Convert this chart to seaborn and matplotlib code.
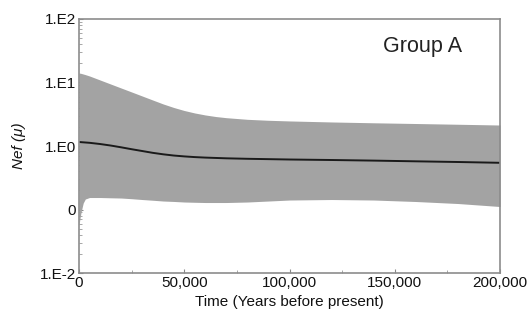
import numpy as np
import pandas as pd
import matplotlib
matplotlib.use("Agg")
import matplotlib.pyplot as plt
import seaborn as sns
from matplotlib.ticker import FuncFormatter, LogLocator, MultipleLocator

# Data (time in years before present)
band_time = [0, 500, 1000, 2000, 3000, 5000, 10000, 15000, 20000, 25000, 30000, 35000,
             40000, 45000, 50000, 55000, 60000, 65000, 70000, 80000, 90000, 100000,
             120000, 140000, 160000, 180000, 200000]
upper_hpd = [14.1, 14.0, 13.9, 13.6, 13.3, 12.66, 10.95, 9.47, 8.19, 7.09, 6.13, 5.30,
             4.59, 4.04, 3.62, 3.31, 3.08, 2.91, 2.79, 2.63, 2.54, 2.48,
             2.39, 2.32, 2.26, 2.20, 2.14]
lower_hpd = [0.057, 0.0735, 0.0913, 0.1266, 0.1464, 0.1545, 0.1545, 0.153, 0.1517, 0.148, 0.1437, 0.140,
             0.1361, 0.134, 0.1313, 0.130, 0.1289, 0.1289, 0.1289, 0.1313, 0.1361, 0.1411,
             0.1437, 0.1411, 0.1337, 0.1243, 0.1115]

median_time = [0, 5000, 10000, 15000, 20000, 25000, 30000, 35000, 40000, 45000, 50000,
               55000, 60000, 70000, 80000, 100000, 120000, 140000, 160000, 180000, 200000]
median_ne = [1.156, 1.123, 1.075, 1.018, 0.954, 0.890, 0.834, 0.781, 0.740, 0.708, 0.686,
             0.669, 0.657, 0.640, 0.629, 0.613, 0.602, 0.589, 0.574, 0.560, 0.544]

ytick_values = [1e-2, 1e-1, 1e0, 1e1, 1e2]
ytick_labels = ["1.E-2", "0", "1.E0", "1.E1", "1.E2"]
xtick_values = [0, 50000, 100000, 150000, 200000]

band = pd.DataFrame({"time": band_time, "upper": upper_hpd, "lower": lower_hpd})
med = pd.DataFrame({"time": median_time, "median": median_ne})

sns.set_theme(style="white")
plt.rcParams["font.family"] = ["Liberation Sans", "DejaVu Sans"]

fig = plt.figure(figsize=(5.32, 3.27), dpi=100)
ax = fig.add_axes([0.1485, 0.165, 0.7915, 0.777])

ax.fill_between(band["time"], band["lower"], band["upper"], color="#a3a3a3", linewidth=0)
sns.lineplot(data=med, x="time", y="median", ax=ax, color="#1a1a1a", linewidth=1.4)

ax.set_yscale("log")
ax.set_ylim(1e-2, 1e2)
ax.set_xlim(0, 200000)
ax.set_yticks(ytick_values)
ax.set_yticklabels(ytick_labels)
ax.yaxis.set_minor_locator(LogLocator(base=10, subs=np.arange(2, 10)))
ax.set_xticks(xtick_values)
ax.xaxis.set_major_formatter(FuncFormatter(lambda v, p: f"{int(v):,}"))
ax.xaxis.set_minor_locator(MultipleLocator(25000))

ax.tick_params(axis="both", which="major", direction="in", length=3, width=0.8,
               color="#888888", labelsize=11, pad=2, labelcolor="#111111")
ax.tick_params(axis="both", which="minor", direction="in", length=2, width=0.6,
               color="#999999")
ax.tick_params(axis="y", which="both", left=True)
ax.tick_params(axis="x", which="both", bottom=True)

for sp in ax.spines.values():
    sp.set_color("#8c8c8c")
    sp.set_linewidth(1.2)

ax.set_xlabel("Time (Years before present)", fontsize=11, labelpad=4, color="#111111")
ax.set_ylabel("Nef (\u03bc)", fontsize=11, style="italic", labelpad=10, color="#111111")

ax.text(0.815, 0.89, "Group A", transform=ax.transAxes, fontsize=15.5,
        ha="center", va="center", color="#222222")

fig.savefig("out.png", dpi=100)
